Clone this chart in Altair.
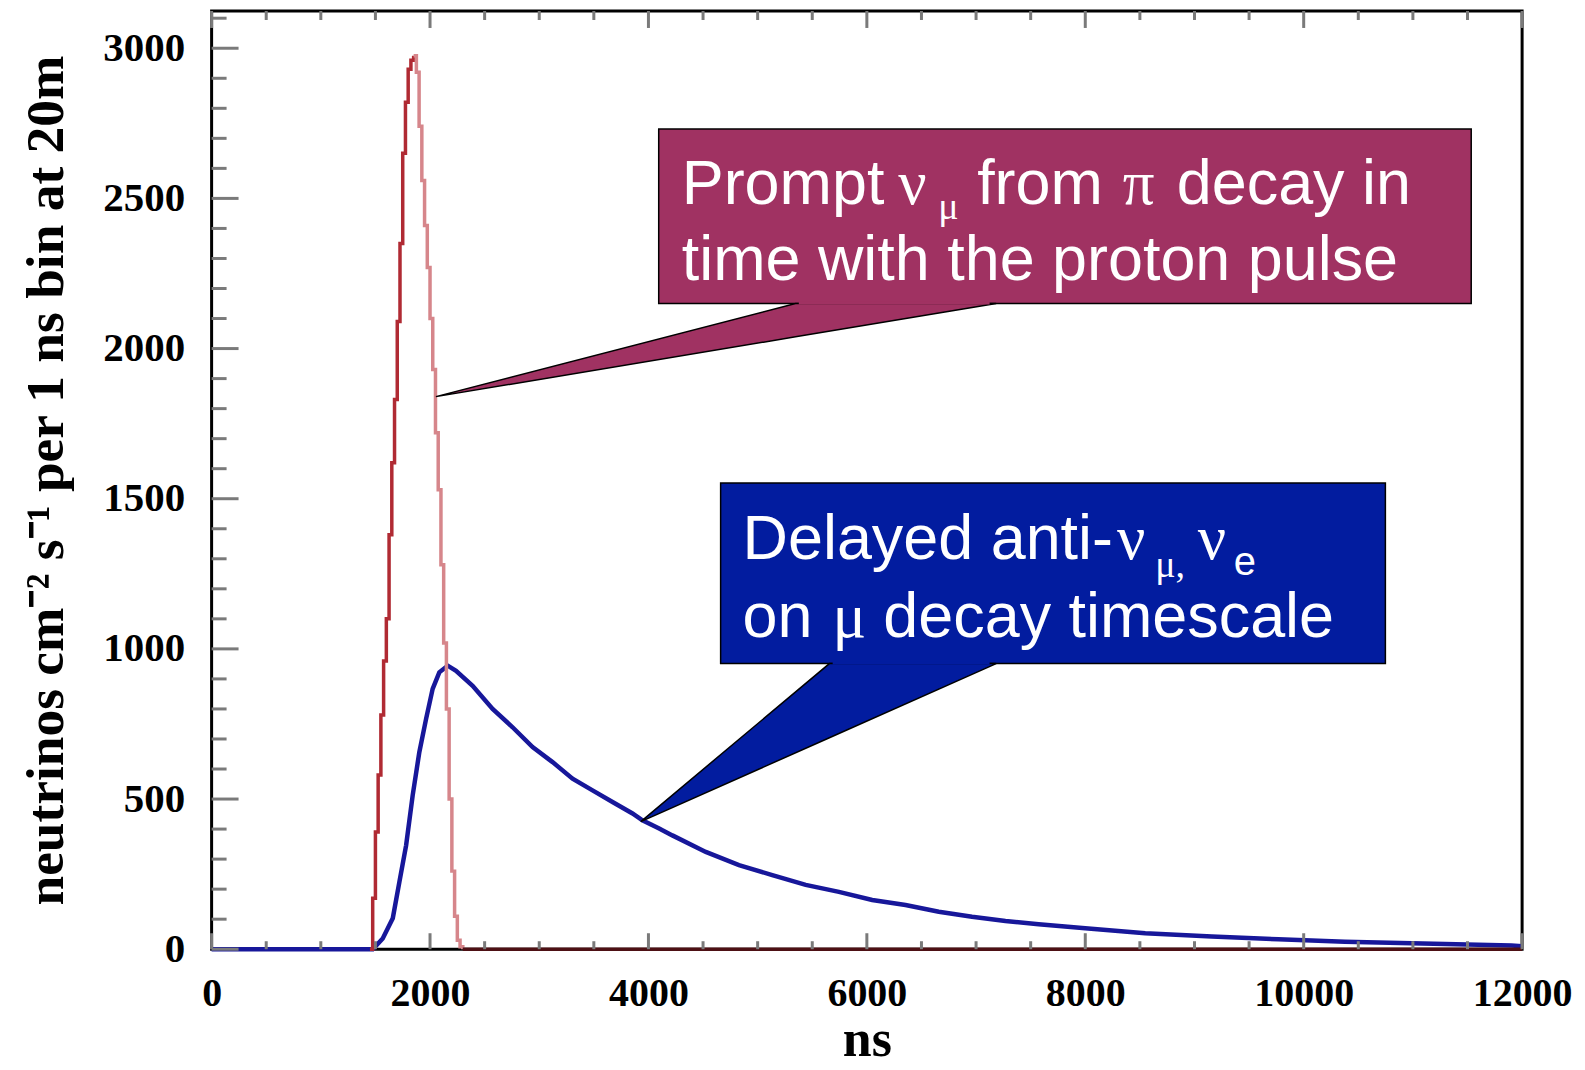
import altair as alt
import pandas as pd

# ---------------- data ----------------
# prompt nu_mu (pi decay) histogram, rising edge / falling edge / zero tail
red_rise_ns = [1450, 1475, 1500, 1525, 1550, 1575, 1600, 1625, 1650, 1675, 1700,
               1725, 1750, 1775, 1800, 1825, 1850]
red_rise_val = [0, 170, 390, 580, 780, 960, 1100, 1380, 1620, 1830, 2090,
                2350, 2650, 2820, 2930, 2960, 2975]
red_fall_ns = [1850, 1875, 1900, 1925, 1950, 1975, 2000, 2025, 2050, 2075, 2100,
               2125, 2150, 2175, 2200, 2225, 2250, 2275, 2300]
red_fall_val = [2975, 2920, 2740, 2560, 2410, 2270, 2100, 1930, 1720, 1530, 1280,
                1020, 800, 500, 260, 110, 30, 8, 0]
red_tail_ns = [2300, 12000]
red_tail_val = [0, 0]

# delayed anti-nu_mu, nu_e (mu decay)
blue_ns = [0, 1476, 1567, 1659, 1720, 1781, 1841, 1902, 1964, 2024, 2085, 2162,
           2238, 2390, 2573, 2756, 2939, 3122, 3305, 3488, 3671, 3854, 3945,
           4098, 4219, 4525, 4829, 5134, 5440, 5744, 6049, 6354, 6659, 6963,
           7269, 7573, 8000, 8549, 9159, 9768, 10378, 10988, 11903, 12000]
blue_val = [0, 0, 36, 103, 225, 346, 512, 656, 767, 867, 922, 944,
            927, 877, 800, 739, 673, 623, 568, 529, 490, 452, 429,
            402, 379, 324, 280, 247, 214, 191, 164, 147, 125, 108,
            94, 83, 70, 53, 42, 33, 25, 20, 12, 10]

x_major = [0, 2000, 4000, 6000, 8000, 10000, 12000]
x_minor = [500, 1000, 1500, 2500, 3000, 3500, 4500, 5000, 5500, 6500, 7000, 7500,
           8500, 9000, 9500, 10500, 11000, 11500]
y_major = [0, 500, 1000, 1500, 2000, 2500, 3000]
y_minor = [v for v in range(100, 3200, 100) if v % 500 != 0]

X_MAX = 12000
Y_MAX = 3124

# annotation call-outs (in data units)
box_x = [4094, 4661]
box_x2 = [11534, 10748]
box_y = [2150, 951]
box_y2 = [2731, 1552]
box_kind = ["prompt", "delayed"]

tail_kind = ["prompt"] * 3 + ["delayed"] * 3
tail_x = [2054, 5347, 7184, 3930, 5657, 7184]
tail_y = [1840, 2150, 2150, 425, 951, 951]
tail_y2 = [1840, 2039, 2150, 425, 704, 951]

seam_x = [5377, 7124, 5687, 7124]
seam_kind = ["prompt", "prompt", "delayed", "delayed"]

sans_text = ["Prompt", "from", "decay in", "time with the proton pulse",
             "Delayed anti-", "e", "on", "decay timescale"]
sans_x = [4305, 7010, 8838, 4305, 4862, 9360, 4862, 6151]
sans_y = [2483, 2483, 2483, 2227, 1299, 1246, 1040, 1040]
sans_s = [63, 63, 63, 63, 63, 40, 63, 63]

serif_text = ["ν", "μ", "π", "ν", "μ,", "ν", "μ"]
serif_x = [6288, 6653, 8344, 8290, 8640, 9030, 5685]
serif_y = [2483, 2430, 2483, 1299, 1240, 1299, 1040]
serif_s = [63, 38, 63, 63, 38, 63, 63]

# ---------------- tables ----------------
red_df = pd.DataFrame({
    "ns": red_rise_ns + red_fall_ns + red_tail_ns,
    "val": red_rise_val + red_fall_val + red_tail_val,
    "part": ["rise"] * len(red_rise_ns) + ["fall"] * len(red_fall_ns) + ["tail"] * len(red_tail_ns),
})
blue_df = pd.DataFrame({"ns": blue_ns, "val": blue_val})

W, H = 1313, 940
xs = alt.Scale(domain=[0, X_MAX], nice=False, zero=False)
ys = alt.Scale(domain=[0, Y_MAX], nice=False, zero=False)

x_axis = alt.Axis(values=x_major, format="d", grid=False, domain=False, ticks=False, tickSize=0,
                  labelFont="Liberation Serif", labelFontWeight="bold", labelFontSize=40,
                  labelColor="black", labelPadding=56, labelBaseline="alphabetic",
                  labelFlush=False, labelOverlap=False,
                  title="ns", titleFont="Liberation Serif", titleFontWeight="bold",
                  titleFontSize=52, titleColor="black", titleX=W / 2, titleY=106,
                  titleAlign="center", titleBaseline="alphabetic")
y_axis = alt.Axis(values=y_major, format="d", grid=False, domain=False, ticks=False, tickSize=0,
                  labelFont="Liberation Serif", labelFontWeight="bold", labelFontSize=41,
                  labelColor="black", labelPadding=27, labelBaseline="middle",
                  labelFlush=False, labelOverlap=False,
                  title="neutrinos cm⁻² s⁻¹ per 1 ns bin at 20m",
                  titleFont="Liberation Serif", titleFontWeight="bold", titleFontSize=53.5,
                  titleColor="black", titleAngle=270, titleX=-149, titleY=H / 2,
                  titleAlign="center", titleBaseline="alphabetic")


def X(field):
    return alt.X(field, scale=xs, axis=x_axis)


def Y(field):
    return alt.Y(field, scale=ys, axis=y_axis)


blue = alt.Chart(blue_df).mark_line(color="#17179a", strokeWidth=4.5).encode(
    x=X("ns:Q"), y=Y("val:Q"),
)

red = alt.Chart(red_df).mark_line(strokeWidth=3.5, interpolate="step-after").encode(
    x=X("ns:Q"), y=Y("val:Q"),
    color=alt.Color("part:N", scale=alt.Scale(domain=["rise", "fall", "tail"],
                                              range=["#b02a33", "#d6868b", "#4d1014"]),
                    legend=None),
    detail="part:N",
)

TICK = "#7a7a7a"
xmaj_df = pd.DataFrame({"v": x_major})
xmin_df = pd.DataFrame({"v": x_minor})
ymaj_df = pd.DataFrame({"v": y_major})
ymin_df = pd.DataFrame({"v": y_minor})


def xtick(df, y0, y1):
    return alt.Chart(df).mark_rule(color=TICK, strokeWidth=3).encode(
        x=X("v:Q"), y=alt.value(y0), y2=alt.value(y1))


def ytick(df, length):
    return alt.Chart(df).mark_rule(color=TICK, strokeWidth=3).encode(
        y=Y("v:Q"), x=alt.value(0), x2=alt.value(length))


ticks = [
    xtick(xmaj_df, H, H - 16), xtick(xmin_df, H, H - 8),
    xtick(xmaj_df, 0, 17), xtick(xmin_df, 0, 9),
    ytick(ymaj_df, 27), ytick(ymin_df, 15),
]

kind_scale = alt.Scale(domain=["prompt", "delayed"], range=["#a03262", "#021c9f"])

tail_df = pd.DataFrame({"k": tail_kind, "x": tail_x, "y": tail_y, "y2": tail_y2})
tails = alt.Chart(tail_df).mark_area(stroke="black", strokeWidth=1.5, opacity=1).encode(
    x=X("x:Q"), y=Y("y:Q"), y2="y2:Q",
    fill=alt.Fill("k:N", scale=kind_scale, legend=None),
    detail="k:N",
)

box_df = pd.DataFrame({"k": box_kind, "x": box_x, "x2": box_x2, "y": box_y, "y2": box_y2})
boxes = alt.Chart(box_df).mark_rect(stroke="black", strokeWidth=1.5).encode(
    x=X("x:Q"), x2="x2:Q", y=Y("y:Q"), y2="y2:Q",
    fill=alt.Fill("k:N", scale=kind_scale, legend=None),
)

seam_rows = []
for i in range(0, len(seam_x), 2):
    k = seam_kind[i]
    yb = box_y[box_kind.index(k)]
    seam_rows.append({"k": k, "x": seam_x[i], "x2": seam_x[i + 1], "y": yb - 3, "y2": yb + 6})
seam_df = pd.DataFrame(seam_rows)
seams = alt.Chart(seam_df).mark_rect(strokeWidth=0).encode(
    x=X("x:Q"), x2="x2:Q", y=Y("y:Q"), y2="y2:Q",
    fill=alt.Fill("k:N", scale=kind_scale, legend=None),
)

sans_df = pd.DataFrame({"t": sans_text, "x": sans_x, "y": sans_y, "s": sans_s})
sans = alt.Chart(sans_df).mark_text(font="Liberation Sans", color="white", align="left",
                                    baseline="alphabetic").encode(
    x=X("x:Q"), y=Y("y:Q"),
    text="t:N", size=alt.Size("s:Q", scale=None, legend=None),
)
serif_df = pd.DataFrame({"t": serif_text, "x": serif_x, "y": serif_y, "s": serif_s})
serif = alt.Chart(serif_df).mark_text(font="Liberation Serif", color="white", align="left",
                                      baseline="alphabetic").encode(
    x=X("x:Q"), y=Y("y:Q"),
    text="t:N", size=alt.Size("s:Q", scale=None, legend=None),
)

chart = alt.layer(blue, red, *ticks, boxes, tails, seams, sans, serif).properties(
    width=W, height=H,
    autosize=alt.AutoSizeParams(type="none"),
    padding={"left": 204, "top": 2, "right": 55, "bottom": 112},
    background="white",
).configure_view(stroke="black", strokeWidth=3).resolve_scale(fill="shared")

chart.save("out.html", embed_options={"renderer": "svg", "actions": False})
